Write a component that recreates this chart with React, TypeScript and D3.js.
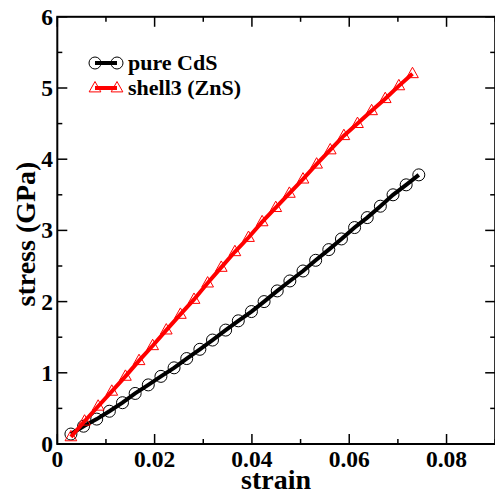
import React from "react";
import * as d3 from "d3";

const pureStrain = [0.0028, 0.0054, 0.0081, 0.0107, 0.0134, 0.0160, 0.0187, 0.0213, 0.0240, 0.0266, 0.0293, 0.0319, 0.0346, 0.0372, 0.0399, 0.0425, 0.0452, 0.0478, 0.0505, 0.0531, 0.0558, 0.0584, 0.0611, 0.0637, 0.0664, 0.0690, 0.0717, 0.0743];
const pureStress = [0.14, 0.25, 0.35, 0.46, 0.58, 0.71, 0.83, 0.95, 1.07, 1.2, 1.33, 1.46, 1.6, 1.73, 1.86, 2.0, 2.15, 2.29, 2.43, 2.58, 2.73, 2.88, 3.04, 3.18, 3.34, 3.5, 3.64, 3.78];

const shellStrain = [0.0028, 0.0056, 0.0084, 0.0112, 0.0140, 0.0168, 0.0196, 0.0224, 0.0253, 0.0281, 0.0309, 0.0337, 0.0365, 0.0393, 0.0421, 0.0449, 0.0477, 0.0505, 0.0533, 0.0561, 0.0589, 0.0617, 0.0646, 0.0674, 0.0702, 0.0730];
const shellStress = [0.1, 0.32, 0.53, 0.74, 0.95, 1.17, 1.38, 1.6, 1.82, 2.03, 2.26, 2.48, 2.7, 2.9, 3.12, 3.32, 3.52, 3.72, 3.93, 4.13, 4.33, 4.5, 4.68, 4.85, 5.03, 5.2];

const xTicks = [0, 0.02, 0.04, 0.06, 0.08];
const xTickLabels = ["0", "0.02", "0.04", "0.06", "0.08"];
const xMinor = [0.01, 0.03, 0.05, 0.07, 0.09];
const yTicks = [0, 1, 2, 3, 4, 5, 6];
const yMinor = [0.5, 1.5, 2.5, 3.5, 4.5, 5.5];

const seriesNames = ["pure CdS", "shell3 (ZnS)"];

const FONT = "Liberation Serif, Times New Roman, Times, serif";

export default function App() {
  const x = d3.scaleLinear().domain([0, 0.09]).range([57.3, 495.2]);
  const y = d3.scaleLinear().domain([0, 6]).range([444, 16.8]);
  const line = d3.line<[number, number]>().x(d => x(d[0])).y(d => y(d[1]));
  const pure: [number, number][] = pureStrain.map((s, i) => [s, pureStress[i]]);
  const shell: [number, number][] = shellStrain.map((s, i) => [s, shellStress[i]]);
  const x0 = x(0), x1 = x(0.09), y0 = y(0), y1 = y(6);
  const tri = (cx: number, cy: number, r = 6.5) =>
    `M${cx},${cy - r}L${cx + r * 0.9},${cy + r * 0.6}L${cx - r * 0.9},${cy + r * 0.6}Z`;

  return (
    <svg width={495} height={495} style={{ position: "absolute", left: 0, top: 0, background: "#fff" }}>
      <rect x={0} y={0} width={495} height={495} fill="#fff" />
      {/* data */}
      <path d={line(pure) || ""} fill="none" stroke="#000" strokeWidth={4} />
      {pure.map((d, i) => (
        <circle key={"c" + i} cx={x(d[0])} cy={y(d[1])} r={6} fill="none" stroke="#000" strokeWidth={1} />
      ))}
      <path d={line(shell) || ""} fill="none" stroke="#ff0000" strokeWidth={4} />
      {shell.map((d, i) => (
        <path key={"t" + i} d={tri(x(d[0]), y(d[1]))} fill="none" stroke="#ff0000" strokeWidth={1} />
      ))}
      {/* frame */}
      <rect x={x0} y={y1} width={x1 - x0} height={y0 - y1} fill="none" stroke="#000" strokeWidth={2} />
      {xTicks.map((t, i) => (
        <g key={"xt" + i}>
          <line x1={x(t)} x2={x(t)} y1={y0} y2={y0 - 10} stroke="#000" strokeWidth={1.5} />
          <line x1={x(t)} x2={x(t)} y1={y1} y2={y1 + 10} stroke="#000" strokeWidth={1.5} />
          <text x={x(t)} y={467} textAnchor="middle" fontFamily={FONT} fontWeight="bold" fontSize={23.5}>{xTickLabels[i]}</text>
        </g>
      ))}
      {xMinor.map((t, i) => (
        <g key={"xm" + i}>
          <line x1={x(t)} x2={x(t)} y1={y0} y2={y0 - 5} stroke="#000" strokeWidth={1.5} />
          <line x1={x(t)} x2={x(t)} y1={y1} y2={y1 + 5} stroke="#000" strokeWidth={1.5} />
        </g>
      ))}
      {yTicks.map((t, i) => (
        <g key={"yt" + i}>
          <line x1={x0} x2={x0 + 10} y1={y(t)} y2={y(t)} stroke="#000" strokeWidth={1.5} />
          <line x1={x1} x2={x1 - 10} y1={y(t)} y2={y(t)} stroke="#000" strokeWidth={1.5} />
          <text x={53} y={y(t) + 8} textAnchor="end" fontFamily={FONT} fontWeight="bold" fontSize={23.5}>{String(t)}</text>
        </g>
      ))}
      {yMinor.map((t, i) => (
        <g key={"ym" + i}>
          <line x1={x0} x2={x0 + 5} y1={y(t)} y2={y(t)} stroke="#000" strokeWidth={1.5} />
          <line x1={x1} x2={x1 - 5} y1={y(t)} y2={y(t)} stroke="#000" strokeWidth={1.5} />
        </g>
      ))}
      {/* axis titles */}
      <text x={276} y={489} textAnchor="middle" fontFamily={FONT} fontWeight="bold" fontSize={28}>strain</text>
      <text transform="translate(35,234) rotate(-90)" textAnchor="middle" fontFamily={FONT} fontWeight="bold" fontSize={28}>stress (GPa)</text>
      {/* legend */}
      <g>
        <line x1={95} x2={117} y1={63} y2={63} stroke="#000" strokeWidth={4} />
        <circle cx={95} cy={63} r={6} fill="none" stroke="#000" strokeWidth={1} />
        <circle cx={117} cy={63} r={6} fill="none" stroke="#000" strokeWidth={1} />
        <text x={128} y={70} fontFamily={FONT} fontWeight="bold" fontSize={22}>{seriesNames[0]}</text>
        <line x1={95} x2={117} y1={88} y2={88} stroke="#ff0000" strokeWidth={4} />
        <path d={tri(95, 88)} fill="none" stroke="#ff0000" strokeWidth={1} />
        <path d={tri(117, 88)} fill="none" stroke="#ff0000" strokeWidth={1} />
        <text x={128} y={95} fontFamily={FONT} fontWeight="bold" fontSize={22}>{seriesNames[1]}</text>
      </g>
    </svg>
  );
}
